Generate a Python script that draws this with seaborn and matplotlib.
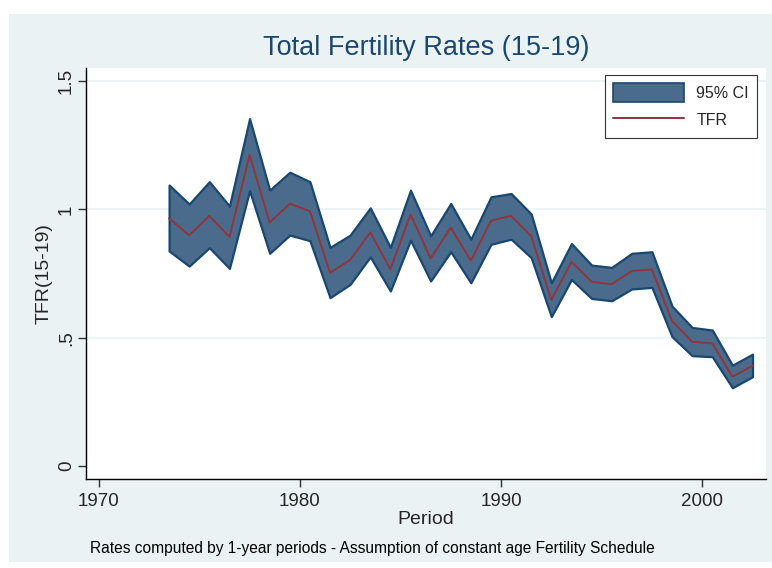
"""Total fertility rates (15-19) with 95% CI band, Stata-like look."""
import matplotlib.pyplot as plt
import pandas as pd
import seaborn as sns
from matplotlib.lines import Line2D
from matplotlib.patches import Patch, Rectangle

period = [1973.5, 1974.5, 1975.5, 1976.5, 1977.5, 1978.5, 1979.5, 1980.5, 1981.5, 1982.5,
          1983.5, 1984.5, 1985.5, 1986.5, 1987.5, 1988.5, 1989.5, 1990.5, 1991.5, 1992.5,
          1993.5, 1994.5, 1995.5, 1996.5, 1997.5, 1998.5, 1999.5, 2000.5, 2001.5, 2002.5]
tfr = [0.965, 0.899, 0.975, 0.892, 1.212, 0.949, 1.022, 0.993, 0.753, 0.803,
       0.910, 0.767, 0.980, 0.809, 0.929, 0.800, 0.956, 0.975, 0.896, 0.647,
       0.796, 0.718, 0.709, 0.760, 0.766, 0.565, 0.484, 0.478, 0.348, 0.391]
ci_upper = [1.095, 1.021, 1.108, 1.013, 1.354, 1.075, 1.145, 1.108, 0.852, 0.900,
            1.006, 0.852, 1.075, 0.897, 1.023, 0.884, 1.049, 1.062, 0.982, 0.714,
            0.867, 0.783, 0.774, 0.829, 0.835, 0.623, 0.540, 0.530, 0.393, 0.436]
ci_lower = [0.838, 0.779, 0.851, 0.770, 1.073, 0.829, 0.900, 0.878, 0.656, 0.708,
            0.815, 0.682, 0.880, 0.721, 0.835, 0.714, 0.864, 0.884, 0.812, 0.582,
            0.727, 0.653, 0.644, 0.690, 0.696, 0.504, 0.430, 0.426, 0.305, 0.348]

x_ticks = [1970, 1980, 1990, 2000]
y_ticks = [0, 0.5, 1, 1.5]
y_tick_labels = ["0", ".5", "1", "1.5"]

NAVY = "#1a476f"
FILL = "#4a6b8c"
MAROON = "#90353b"
REGION = "#eaf2f3"

df = pd.DataFrame({"period": period, "tfr": tfr, "lo": ci_lower, "hi": ci_upper})

sns.set_style("white")
plt.rcParams["font.family"] = ["Liberation Sans", "DejaVu Sans"]

W, H = 772, 568
fig = plt.figure(figsize=(W / 100, H / 100), dpi=100, facecolor="white")
# graph region background
fig.patches.append(Rectangle((9 / W, 1 - 562 / H), (W - 9) / W, (562 - 14) / H,
                             transform=fig.transFigure, facecolor=REGION,
                             edgecolor="none", zorder=0))

ax = fig.add_axes([86 / W, 1 - 479 / H, 680 / W, 411 / H])
ax.set_zorder(2)
ax.set_facecolor("white")

for yv in y_ticks[1:]:
    ax.axhline(yv, color=REGION, lw=1.2, zorder=0)

ax.fill_between(df["period"], df["lo"], df["hi"], facecolor=FILL, edgecolor=NAVY,
                linewidth=1.6, zorder=2)
sns.lineplot(data=df, x="period", y="tfr", ax=ax, color=MAROON, lw=1.4, zorder=3)

ax.set_xlim(1969.37, 2003.17)
ax.set_ylim(-0.0506, 1.551)
ax.set_xticks(x_ticks)
ax.set_xticklabels([str(t) for t in x_ticks], fontsize=13.5)
ax.set_yticks(y_ticks)
ax.set_yticklabels(y_tick_labels, fontsize=13.5, rotation=90, va="center")
ax.tick_params(axis="both", length=6, width=1, color="#333333", direction="out",
               left=True, bottom=True)
ax.tick_params(axis="y", pad=2)
ax.tick_params(axis="x", pad=4)

for side in ["top", "right"]:
    ax.spines[side].set_visible(False)
for side in ["left", "bottom"]:
    ax.spines[side].set_color("black")
    ax.spines[side].set_linewidth(1)

ax.set_xlabel("Period", fontsize=14, labelpad=1)
ax.set_ylabel("TFR(15-19)", fontsize=14, labelpad=4)

fig.text(426 / W, 1 - 48 / H, "Total Fertility Rates (15-19)", ha="center", va="center",
         fontsize=19.5, color=NAVY)
fig.text(90 / W, 1 - 548 / H,
         "Rates computed by 1-year periods - Assumption of constant age Fertility Schedule",
         ha="left", va="center", fontsize=11.2, color="black")

handles = [Patch(facecolor=FILL, edgecolor=NAVY, linewidth=1.2, label="95% CI"),
           Line2D([0], [0], color=MAROON, lw=1.4, label="TFR")]
leg = ax.legend(handles=handles, loc="upper right", bbox_to_anchor=(1 - 9 / 680, 1 - 7 / 411),
                borderaxespad=0, frameon=True, fancybox=False, edgecolor="black",
                fontsize=11.5, handlelength=4.5, handleheight=1.5, borderpad=0.5,
                labelspacing=0.5, handletextpad=0.75)
leg.get_frame().set_linewidth(0.8)

fig.savefig("out.png", dpi=100, facecolor="white")
